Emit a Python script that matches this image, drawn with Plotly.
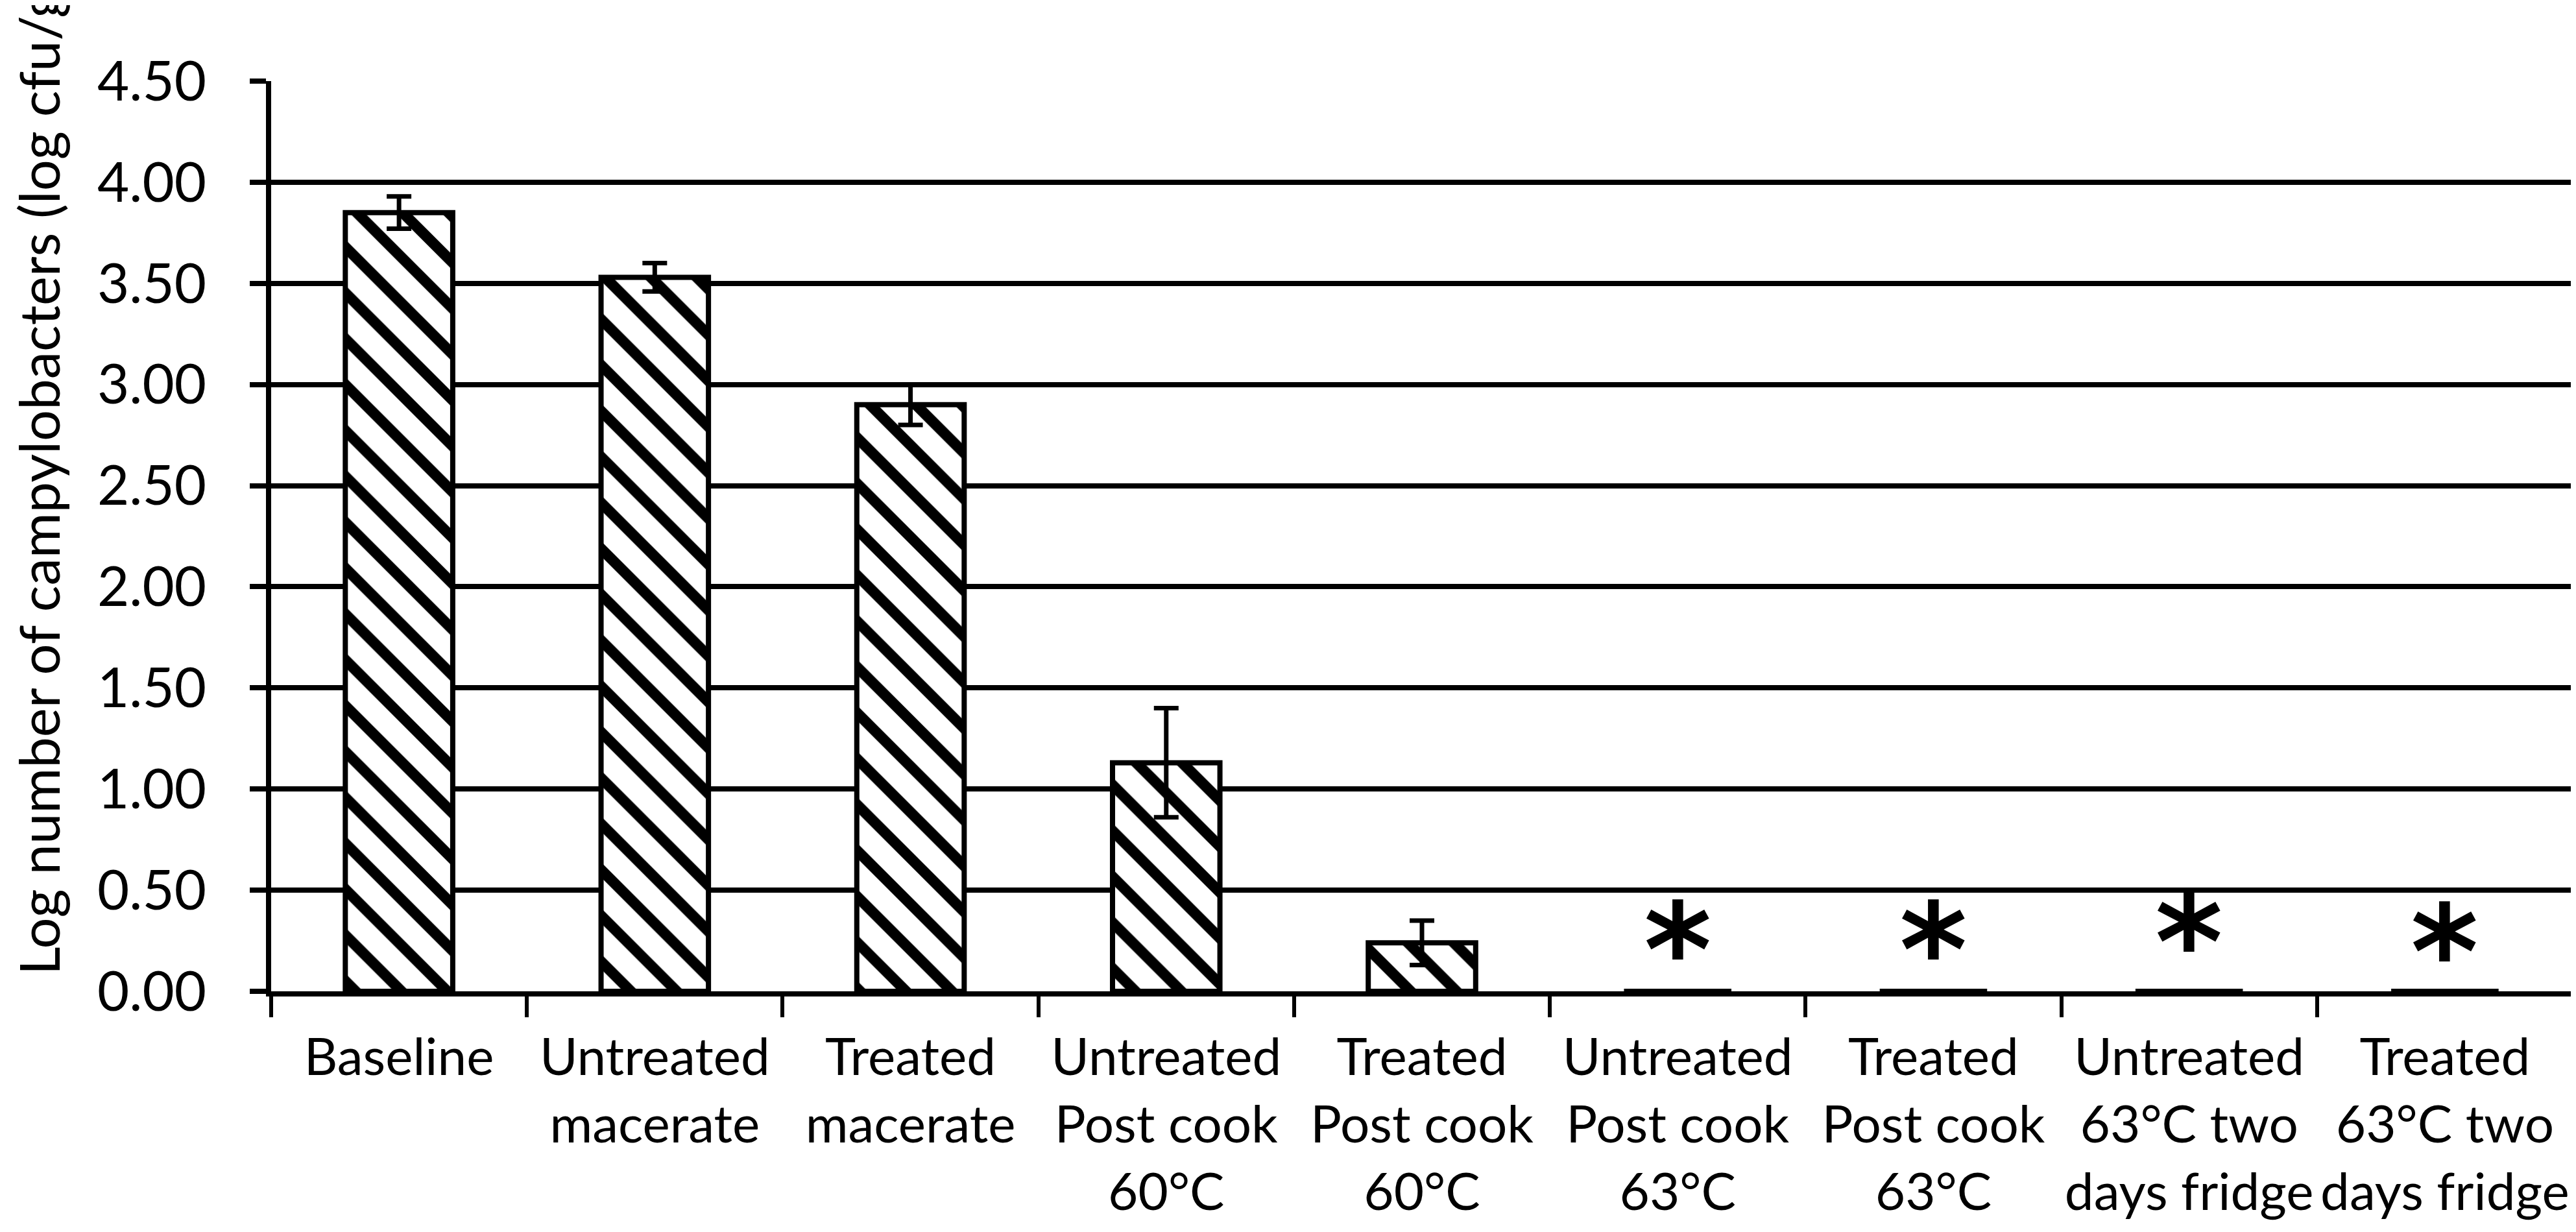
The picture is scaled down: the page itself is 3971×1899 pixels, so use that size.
import plotly.graph_objects as go

categories = [
    "Baseline",
    "Untreated<br>macerate",
    "Treated<br>macerate",
    "Untreated<br>Post cook<br>60°C",
    "Treated<br>Post cook<br>60°C",
    "Untreated<br>Post cook<br>63°C",
    "Treated<br>Post cook<br>63°C",
    "Untreated<br>63°C two<br>days fridge",
    "Treated<br>63°C two<br>days fridge",
]
log_counts = [3.85, 3.53, 2.90, 1.13, 0.24, 0, 0, 0, 0]
errors = [0.08, 0.07, 0.10, 0.27, 0.11, None, None, None, None]
star_categories = categories[5:]
star_y = [0.28, 0.28, 0.32, 0.27]
y_ticks = [0, 0.5, 1.0, 1.5, 2.0, 2.5, 3.0, 3.5, 4.0, 4.5]

FONT = "Lato"

fig = go.Figure()
fig.add_trace(go.Bar(
    x=categories, y=log_counts,
    marker=dict(color="white", line=dict(color="black", width=8),
                pattern=dict(shape="\\", fgcolor="black", bgcolor="white",
                             fgopacity=1, size=50, solidity=0.33,
                             fillmode="replace")),
    error_y=dict(type="data", array=errors, visible=True, color="black",
                 thickness=7, width=19),
    width=0.42,
))

for cat, yv in zip(star_categories, star_y):
    fig.add_annotation(
        x=cat, y=yv, xref="x", yref="y", text="*", showarrow=False,
        xanchor="center", yanchor="middle", yshift=-25,
        font=dict(family="DejaVu Sans", size=200, color="black", weight="bold"),
    )

fig.add_annotation(
    text="Log number of campylobacters (log cfu/g)",
    xref="paper", yref="paper", x=(51 - 410) / 3548, y=(1520 - 1497) / 1403,
    xanchor="center", yanchor="bottom", textangle=-90, showarrow=False,
    font=dict(family=FONT, size=85, color="black"),
)

fig.update_layout(
    width=3971, height=1899,
    margin=dict(l=410, r=13, t=117, b=379, autoexpand=False),
    paper_bgcolor="white", plot_bgcolor="white",
    showlegend=False,
    font=dict(family=FONT, size=85, color="black"),
)
fig.update_xaxes(
    type="category", showline=True, linecolor="black", linewidth=8,
    ticks="outside", tickson="boundaries", ticklen=32, tickwidth=6,
    tickcolor="black", showgrid=False, ticklabelstandoff=25, tickangle=0,
    automargin=False,
    tickfont=dict(family=FONT, size=80, color="black"),
)
fig.update_yaxes(
    range=[0, 4.5], tickvals=y_ticks, tickformat=".2f",
    showline=True, linecolor="black", linewidth=8, mirror=True,
    ticks="outside", ticklen=25, tickwidth=8, tickcolor="black",
    showgrid=True, gridcolor="black", gridwidth=8, zeroline=False,
    ticklabelstandoff=50, automargin=False,
    tickfont=dict(family=FONT, size=85, color="black"),
)

fig.write_html("out.html")
